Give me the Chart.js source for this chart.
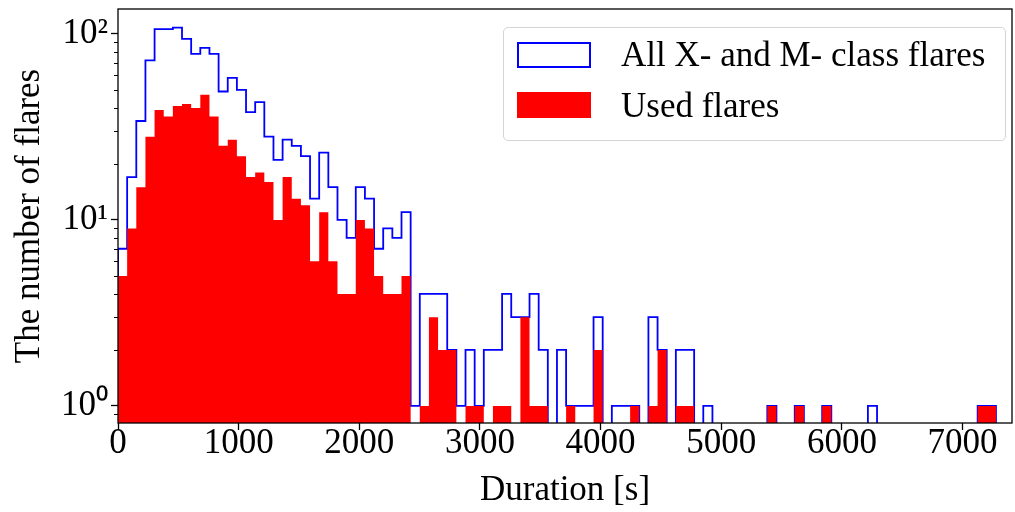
<!DOCTYPE html>
<html>
<head>
<meta charset="utf-8">
<script src="https://cdn.jsdelivr.net/npm/chart.js@4/dist/chart.umd.min.js"></script>
<style>
  body { margin: 0; background: #fff; }
  #wrap { position: relative; width: 1015px; height: 512px; overflow: hidden; }
  #legend {
    position: absolute; left: 503px; top: 27px; width: 503px; height: 114px;
    box-sizing: border-box; border: 1.3px solid #d4d4d4; border-radius: 5px;
    background: rgba(255,255,255,0.8);
    font-family: 'Liberation Serif', 'Times New Roman', serif; font-size: 35px; line-height: 35px; color: #000;
  }
  #legend .sw { position: absolute; left: 13px; width: 74px; height: 26px; box-sizing: border-box; }
  #legend .lbl { position: absolute; left: 117px; white-space: nowrap; }
</style>
</head>
<body>
<div id="wrap">
  <canvas id="chart" width="1015" height="512"></canvas>
  <div id="legend">
    <div class="sw" style="top:14px; border:2px solid #0000ff;"></div>
    <div class="lbl" style="top:9px;">All X- and M- class flares</div>
    <div class="sw" style="top:64px; background:#ff0000;"></div>
    <div class="lbl" style="top:60px;">Used flares</div>
  </div>
</div>
<script>
// histogram bins: width in seconds, counts per bin
let binWidth = 75.8;
let allFlares = [
  7, 17, 34, 72, 106, 106, 108, 94, 78, 84,
  78, 49, 58, 50, 38, 43, 28, 21, 27, 25,
  22, 13, 23, 15, 10, 8, 15, 13, 7, 9,
  8, 11, 1, 4, 4, 4, 2, 1, 2, 1,
  2, 2, 4, 3, 3, 4, 2, 0, 2, 1,
  1, 1, 3, 0, 1, 1, 1, 0, 3, 2,
  0, 2, 2, 0, 1, 0, 0, 0, 0, 0,
  0, 1, 0, 0, 1, 0, 0, 1, 0, 0,
  0, 0, 1, 0, 0, 0, 0, 0, 0, 0,
  0, 0, 0, 0, 1, 1
];
let usedFlares = [
  5, 9, 15, 28, 39, 36, 41, 42, 40, 47,
  36, 25, 27, 22, 17, 18, 16, 10, 17, 13,
  12, 6, 11, 6, 4, 4, 10, 9, 5, 4,
  4, 5, 0, 1, 3, 2, 2, 0, 1, 1,
  0, 1, 1, 0, 3, 1, 1, 0, 0, 1,
  0, 0, 2, 0, 0, 0, 1, 0, 1, 2,
  0, 1, 1, 0, 0, 0, 0, 0, 0, 0,
  0, 1, 0, 0, 1, 0, 0, 1, 0, 0,
  0, 0, 0, 0, 0, 0, 0, 0, 0, 0,
  0, 0, 0, 0, 1, 1
];
let xTicks = [0, 1000, 2000, 3000, 4000, 5000, 6000, 7000];
let xMax = 7410;
let yMin = 0.81, yMax = 136;

// empty bins sit below the log axis so the step drops out of view
let FLOOR = 0.5;
function steps(counts) {
  let pts = [{ x: 0, y: FLOOR }];
  counts.forEach((c, i) => pts.push({ x: i * binWidth, y: c > 0 ? c : FLOOR }));
  let last = counts[counts.length - 1];
  pts.push({ x: counts.length * binWidth, y: last > 0 ? last : FLOOR });
  pts.push({ x: counts.length * binWidth, y: FLOOR });
  return pts;
}

let sup = { 0: '\u2070', 1: '\u00b9', 2: '\u00b2', 3: '\u00b3' };

let frame = {
  id: 'frame',
  afterDraw(chart) {
    let { ctx, chartArea: a } = chart;
    let y = chart.scales.y;
    ctx.save();
    ctx.strokeStyle = '#000';
    ctx.lineWidth = 1;
    y.ticks.forEach(t => {
      if (t.major) return;
      let s = t.value / Math.pow(10, Math.floor(Math.log10(t.value) + 1e-9));
      if (Math.abs(s - Math.round(s)) > 1e-6) return;
      let py = Math.round(y.getPixelForValue(t.value)) + 0.5;
      ctx.beginPath();
      ctx.moveTo(a.left, py);
      ctx.lineTo(a.left - 4, py);
      ctx.stroke();
    });
    ctx.lineWidth = 1.3;
    ctx.strokeRect(a.left, a.top, a.right - a.left, a.bottom - a.top);
    ctx.restore();
  }
};

Chart.defaults.font.family = "'Liberation Serif', 'Times New Roman', serif";
Chart.defaults.color = '#000';

new Chart(document.getElementById('chart'), {
  type: 'line',
  data: {
    datasets: [
      {
        label: 'All X- and M- class flares',
        data: steps(allFlares),
        stepped: true,
        borderColor: '#0000ff',
        borderWidth: 1.8,
        pointRadius: 0,
        fill: false,
        order: 1
      },
      {
        label: 'Used flares',
        data: steps(usedFlares),
        stepped: true,
        borderColor: 'rgba(255,0,0,0)',
        borderWidth: 0,
        backgroundColor: '#ff0000',
        pointRadius: 0,
        fill: 'start',
        order: 0
      }
    ]
  },
  options: {
    responsive: false,
    animation: false,
    layout: { padding: { top: 9, right: 3, left: 0, bottom: 0 } },
    plugins: { legend: { display: false }, tooltip: { enabled: false } },
    scales: {
      x: {
        type: 'linear',
        min: 0,
        max: xMax,
        afterBuildTicks: s => { s.ticks = xTicks.map(v => ({ value: v })); },
        afterFit: s => { s.height = 89; s.paddingLeft = 0; s.paddingRight = 0; },
        border: { display: false },
        grid: { drawOnChartArea: false, tickLength: 7, tickColor: '#000', tickWidth: 1.3 },
        ticks: { font: { size: 35, lineHeight: 1 }, padding: -4, maxRotation: 0, autoSkip: false, callback: v => String(v) },
        title: { display: true, text: 'Duration [s]', font: { size: 35, lineHeight: 1.2 }, padding: { top: 0, bottom: 0 } }
      },
      y: {
        type: 'logarithmic',
        min: yMin,
        max: yMax,
        afterFit: s => { s.width = 118; s.paddingTop = 0; s.paddingBottom = 0; },
        border: { display: false },
        grid: {
          drawOnChartArea: false, tickLength: 7, tickWidth: 1.3,
          tickColor: c => (c.tick && c.tick.major ? '#000' : 'rgba(0,0,0,0)')
        },
        ticks: {
          font: { size: 35, lineHeight: 1 },
          padding: 3,
          autoSkip: false,
          callback: v => {
            let e = Math.log10(v);
            return Math.abs(e - Math.round(e)) < 1e-9 ? '10' + sup[Math.round(e)] : '';
          }
        },
        title: { display: true, text: 'The number of flares', font: { size: 35, lineHeight: 1.2 }, padding: { top: 9, bottom: 0 } }
      }
    }
  },
  plugins: [frame]
});
</script>
</body>
</html>
